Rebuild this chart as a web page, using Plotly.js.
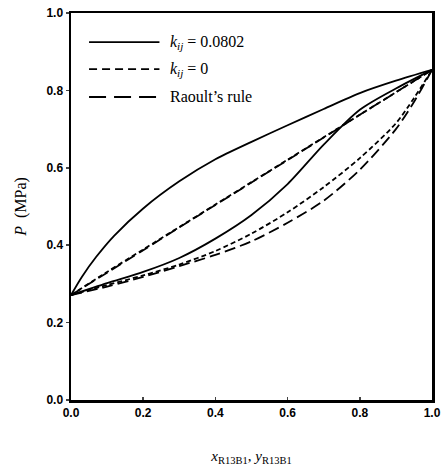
<!DOCTYPE html>
<html><head><meta charset="utf-8">
<script src="https://cdn.plot.ly/plotly-3.0.1.min.js"></script>
<style>html,body{margin:0;padding:0;background:#fff}#plot{width:441px;height:472px}</style>
</head><body><div id="plot"></div>
<script>
// Mole fraction of R13B1
const xK = [0, 0.03, 0.07, 0.12, 0.2, 0.3, 0.4, 0.5, 0.6, 0.7, 0.8, 0.9, 1.0];
// kij = 0.0802, bubble curve (upper solid)
const pBubbleK = [0.271, 0.318, 0.37, 0.425, 0.495, 0.565, 0.622, 0.667, 0.71, 0.752, 0.793, 0.825, 0.853];
// kij = 0.0802, dew curve (lower solid)
const xDewK = [0, 0.1, 0.2, 0.3, 0.4, 0.5, 0.6, 0.7, 0.8, 0.9, 1.0];
const pDewK = [0.271, 0.302, 0.331, 0.367, 0.417, 0.478, 0.558, 0.66, 0.75, 0.805, 0.853];
// kij = 0 curves (short dash)
const x0 = [0, 0.1, 0.2, 0.3, 0.4, 0.5, 0.6, 0.7, 0.8, 0.9, 0.95, 1.0];
const pBubble0 = [0.271, 0.331, 0.389, 0.447, 0.505, 0.563, 0.621, 0.679, 0.737, 0.795, 0.824, 0.853];
const pDew0 = [0.271, 0.297, 0.322, 0.35, 0.385, 0.43, 0.485, 0.55, 0.625, 0.715, 0.78, 0.853];
// Raoult's rule (long dash)
const xR = [0, 0.1, 0.2, 0.3, 0.4, 0.5, 0.6, 0.7, 0.8, 0.9, 0.95, 1.0];
const pBubbleR = [0.271, 0.329, 0.387, 0.446, 0.504, 0.562, 0.620, 0.678, 0.737, 0.795, 0.824, 0.853];
const pDewR = [0.271, 0.293, 0.318, 0.346, 0.375, 0.41, 0.458, 0.515, 0.595, 0.70, 0.77, 0.853];
const xTicks = [0, 0.2, 0.4, 0.6, 0.8, 1.0];
const xTickText = ['0.0', '0.2', '0.4', '0.6', '0.8', '1.0'];
const yTicks = [0, 0.2, 0.4, 0.6, 0.8, 1.0];
const yTickText = ['0.0', '0.2', '0.4', '0.6', '0.8', '1.0'];
const legendLabels = ['<i>k<sub>ij</sub></i> = 0.0802', '<i>k<sub>ij</sub></i> = 0', 'Raoult\u2019s rule'];

const solid = {color: '#000', width: 1.8, dash: 'solid', shape: 'spline', smoothing: 0.8};
const sdash = {color: '#000', width: 1.8, dash: '5px,3px', shape: 'spline', smoothing: 0.8};
const ldash = {color: '#000', width: 1.8, dash: '11px,5px', shape: 'spline', smoothing: 0.8};

const traces = [
  {x: xK, y: pBubbleK, mode: 'lines', line: solid},
  {x: xDewK, y: pDewK, mode: 'lines', line: solid},
  {x: x0, y: pBubble0, mode: 'lines', line: sdash},
  {x: x0, y: pDew0, mode: 'lines', line: sdash},
  {x: xR, y: pBubbleR, mode: 'lines', line: ldash},
  {x: xR, y: pDewR, mode: 'lines', line: ldash}
];

const legDash = ['solid', '8px,5px', '17px,8px'];
const legY = [0.925, 0.855, 0.783];
const shapes = [], annotations = [];
for (let i = 0; i < 3; i++) {
  shapes.push({type: 'line', xref: 'paper', yref: 'paper', x0: 0.05, x1: 0.245, y0: legY[i], y1: legY[i],
    line: {color: '#000', width: 1.8, dash: legDash[i]}});
  annotations.push({xref: 'paper', yref: 'paper', x: 0.27, y: legY[i], xanchor: 'left', yanchor: 'middle',
    text: legendLabels[i], showarrow: false, font: {family: 'Liberation Serif, serif', size: 16, color: '#000'}});
}

const tickFont = {family: 'Liberation Sans, Arial, sans-serif', size: 12, color: '#000', weight: 'bold'};
const layout = {
  width: 441, height: 472,
  margin: {l: 71, r: 9, t: 13, b: 72},
  paper_bgcolor: '#fff', plot_bgcolor: '#fff',
  showlegend: false,
  xaxis: {range: [0, 1], tickvals: xTicks, ticktext: xTickText, showgrid: false, zeroline: false,
    showline: true, mirror: true, linecolor: '#000', linewidth: 2.5, ticks: 'inside', ticklen: 3, tickwidth: 1.5,
    tickfont: tickFont,
    title: {text: '<i>x</i><sub>R13B1</sub>, <i>y</i><sub>R13B1</sub>', standoff: 32,
      font: {family: 'Liberation Serif, serif', size: 15, color: '#000'}}},
  yaxis: {range: [0, 1], tickvals: yTicks, ticktext: yTickText, showgrid: false, zeroline: false,
    showline: true, mirror: true, linecolor: '#000', linewidth: 2.5, ticks: 'outside', ticklen: 3, tickwidth: 1.5,
    tickfont: tickFont,
    title: {text: '<i>P</i>  (MPa)', standoff: 16,
      font: {family: 'Liberation Serif, serif', size: 16, color: '#000'}}},
  shapes: shapes,
  annotations: annotations
};
Plotly.newPlot('plot', traces, layout, {displayModeBar: false, staticPlot: true});
</script>
</body></html>
